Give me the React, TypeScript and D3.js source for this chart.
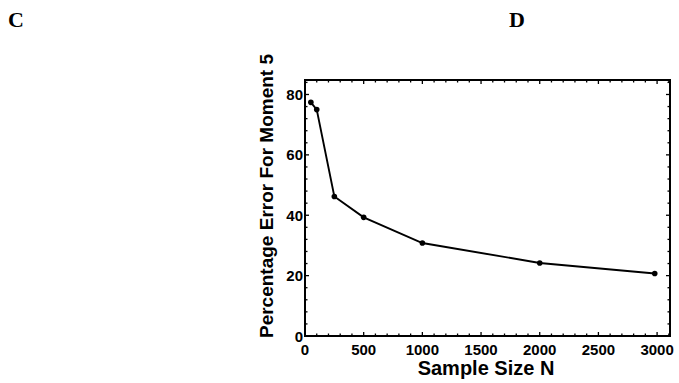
import { useEffect, useRef } from 'react';
import * as d3 from 'd3';

const sampleSizes = [50, 100, 250, 500, 1000, 2000, 2980];
const percentError = [77.4, 75, 46.2, 39.3, 30.8, 24.2, 20.7];
const xTicks = [0, 500, 1000, 1500, 2000, 2500, 3000];
const yTicks = [0, 20, 40, 60, 80];
const panelLabels = ['C', 'D'];

export default function App() {
  const svgRef = useRef<SVGSVGElement | null>(null);

  useEffect(() => {
    if (!svgRef.current) return;
    const svg = d3.select(svgRef.current);
    svg.selectAll('*').remove();

    const width = 679;
    const height = 383;
    const margin = { top: 80, right: 9, bottom: 47, left: 305 };
    const font = '"Liberation Sans", Arial, sans-serif';

    const x = d3.scaleLinear().domain([0, 3110]).range([margin.left, width - margin.right]);
    const y = d3.scaleLinear().domain([0, 84.8]).range([height - margin.bottom, margin.top]);

    svg.attr('width', width).attr('height', height);

    // panel letters
    svg.selectAll('text.panel')
      .data(panelLabels)
      .enter()
      .append('text')
      .classed('panel', true)
      .attr('x', (d, i) => (i === 0 ? 8 : 509))
      .attr('y', 27)
      .attr('font-family', '"Liberation Serif", "Times New Roman", serif')
      .attr('font-weight', 'bold')
      .attr('font-size', '22px')
      .text((d) => d);

    const x0 = margin.left;
    const x1 = width - margin.right;
    const y0 = height - margin.bottom;
    const y1 = margin.top;

    // minor / major ticks, pointing inward on all sides
    const tickG = svg.append('g').attr('stroke', '#000').attr('stroke-width', 1.3);
    d3.range(0, 3101, 100).forEach((v) => {
      const len = v % 500 === 0 ? 4 : 2.5;
      tickG.append('line').attr('x1', x(v)).attr('x2', x(v)).attr('y1', y0).attr('y2', y0 - len);
      tickG.append('line').attr('x1', x(v)).attr('x2', x(v)).attr('y1', y1).attr('y2', y1 + len);
    });
    d3.range(0, 85, 4).forEach((v) => {
      const len = v % 20 === 0 ? 4 : 2.5;
      tickG.append('line').attr('x1', x0).attr('x2', x0 + len).attr('y1', y(v)).attr('y2', y(v));
      tickG.append('line').attr('x1', x1).attr('x2', x1 - len).attr('y1', y(v)).attr('y2', y(v));
    });

    // frame
    svg.append('rect')
      .attr('x', x0)
      .attr('y', y1)
      .attr('width', x1 - x0)
      .attr('height', y0 - y1)
      .attr('fill', 'none')
      .attr('stroke', '#000')
      .attr('stroke-width', 2);

    // tick labels
    svg.append('g')
      .selectAll('text')
      .data(xTicks)
      .enter()
      .append('text')
      .attr('x', (d) => x(d))
      .attr('y', 355)
      .attr('text-anchor', 'middle')
      .attr('font-family', font)
      .attr('font-weight', 'bold')
      .attr('font-size', '15px')
      .text((d) => d);

    svg.append('g')
      .selectAll('text')
      .data(yTicks)
      .enter()
      .append('text')
      .attr('x', x0 - 2)
      .attr('y', (d) => y(d) + 5.5)
      .attr('text-anchor', 'end')
      .attr('font-family', font)
      .attr('font-weight', 'bold')
      .attr('font-size', '15px')
      .text((d) => d);

    // line + points
    const pts = sampleSizes.map((n, i) => [n, percentError[i]] as [number, number]);
    const line = d3.line<[number, number]>().x((d) => x(d[0])).y((d) => y(d[1]));
    svg.append('path')
      .attr('d', line(pts) || '')
      .attr('fill', 'none')
      .attr('stroke', '#000')
      .attr('stroke-width', 1.9);
    svg.append('g')
      .selectAll('circle')
      .data(pts)
      .enter()
      .append('circle')
      .attr('cx', (d) => x(d[0]))
      .attr('cy', (d) => y(d[1]))
      .attr('r', 2.8)
      .attr('fill', '#000');

    // axis titles
    svg.append('text')
      .attr('x', 486)
      .attr('y', 375)
      .attr('text-anchor', 'middle')
      .attr('font-family', font)
      .attr('font-weight', 'bold')
      .attr('font-size', '20px')
      .text('Sample Size N');

    svg.append('text')
      .attr('transform', `translate(${273},${196}) rotate(-90)`)
      .attr('text-anchor', 'middle')
      .attr('font-family', font)
      .attr('font-weight', 'bold')
      .attr('font-size', '19px')
      .text('Percentage Error For Moment 5');
  }, []);

  return (
    <div style={{ position: 'absolute', left: 0, top: 0, background: '#fff' }}>
      <svg ref={svgRef} width={679} height={383}></svg>
    </div>
  );
}
